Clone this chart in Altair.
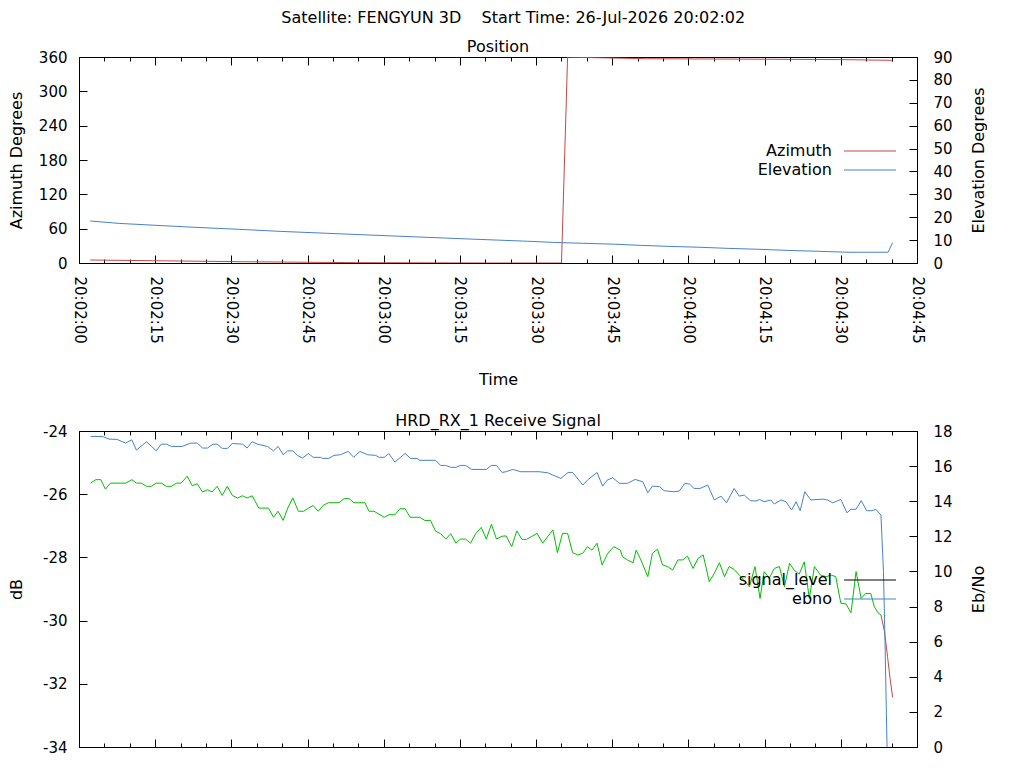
import altair as alt
import pandas as pd

FONT = "DejaVu Sans"
RED = "#c84646"
BLUE = "#4682c8"
GREEN = "#00c000"
W, H1, H2 = 838, 206, 316

TITLE = "Satellite: FENGYUN 3D" + "\u00a0" * 4 + "Start Time: 26-Jul-2026 20:02:02"

# ---- data (time = seconds after 20:02:00) ----
az_t = [2.2, 14.5, 32.6, 54.5, 80.5, 95.0, 96.2, 111.6, 149.6, 159.9, 160.2]
az_v = [5.2, 4.0, 2.2, 0.6, 0.0, 0.0, 359.8, 357.0, 355.5, 354.2, 351.3]

el_t = [2.2, 7.9, 14.8, 22.7, 31.6, 39.8, 48.6, 58.5, 68.7, 77.8, 88.3, 93.5,
        99.4, 105.7, 110.7, 115.6, 121.9, 127.8, 133.7, 139.6, 145.7, 151.6, 159.3, 160.2]
el_v = [18.35, 17.3, 16.5, 15.6, 14.7, 13.8, 13.0, 12.1, 11.2, 10.4, 9.5, 9.0,
        8.6, 8.2, 7.7, 7.3, 6.9, 6.4, 6.0, 5.5, 5.1, 4.7, 4.7, 8.9]

sig_t = [2.3, 3.3, 4.3, 5.2, 6.2, 9.2, 10.4, 11.3, 12.3, 13.3, 14.2, 15.2, 16.2, 17.2, 18.2,
         19.2, 20.1, 21.3, 22.3, 23.3, 24.3, 25.3, 26.2, 27.2, 28.2, 29.2, 30.2, 31.2, 32.2,
         33.1, 34.1, 35.4, 37.3, 38.3, 39.2, 40.2, 41.1, 42.1,
         43.2, 44.2, 45.2, 46.1, 47.1, 48.1, 49.1, 51.2, 52.2, 53.2, 54.1, 56.3, 57.1, 58.1,
         60.1, 61.0, 62.2, 63.2, 64.2, 65.2, 67.1, 68.1, 69.2, 70.2, 71.2, 72.2, 73.2, 74.2,
         75.1, 76.1, 77.1, 78.1, 79.2, 80.2, 81.2, 82.2, 83.3,
         84.1, 85.2, 86.2, 87.2, 88.1, 89.1, 90.2, 91.3, 93.3, 94.2, 95.2, 96.2, 97.2, 98.2,
         99.2, 100.1, 101.0, 102.0, 103.0, 104.1, 105.3, 106.6, 107.0, 108.0, 109.1, 109.7,
         110.5, 112.0, 112.9, 113.9, 114.9, 115.9, 116.9, 117.9, 118.9, 119.8, 120.9, 121.9,
         122.9, 124.1, 125.1, 126.1, 127.1, 128.0, 129.0, 130.0, 131.0, 132.0, 133.1, 134.1,
         134.9, 135.9, 136.9, 137.9, 138.9, 139.9, 140.8, 141.8, 142.8, 143.8, 144.8, 146.0,
         147.1, 148.1, 149.0, 150.0, 151.0, 152.0, 153.0, 154.0, 154.9, 155.9, 156.6, 157.3, 157.9]
sig_db = [-25.65, -25.54, -25.54, -25.84, -25.65, -25.65, -25.54, -25.65, -25.65, -25.75,
          -25.75, -25.65, -25.65, -25.75, -25.75, -25.65, -25.65, -25.43, -25.73, -25.67,
          -25.93, -25.86, -25.93, -25.75, -26.04, -25.75, -26.04, -26.12, -26.05, -26.12,
          -26.05, -26.44, -26.44, -26.73, -26.54, -26.83, -26.44, -26.12,
          -26.54, -26.54, -26.44, -26.36, -26.54, -26.35, -26.27, -26.27, -26.14, -26.14,
          -26.27, -26.27, -26.54, -26.54, -26.73, -26.65, -26.65, -26.46, -26.46, -26.73,
          -26.73, -26.83, -26.83, -27.17, -27.25, -27.42, -27.25, -27.55, -27.42, -27.42,
          -27.55, -27.25, -27.05, -27.42, -26.95, -27.42, -27.33,
          -27.32, -27.66, -27.16, -27.43, -27.43, -27.34, -27.24, -27.55, -27.13, -27.85,
          -27.24, -27.24, -27.85, -27.92, -27.87, -27.66, -27.77, -27.55, -28.24, -27.87,
          -27.66, -27.77, -27.98, -28.08, -28.17, -27.77, -28.03, -28.61, -27.87, -27.74,
          -28.24, -28.29, -28.40, -28.08, -28.08, -27.96, -28.35, -28.03, -27.92, -28.77,
          -28.50, -28.17, -28.61, -28.29, -28.38, -28.56, -28.72, -28.93, -28.29, -29.30,
          -28.45, -28.66, -28.35, -28.29, -28.93, -28.19, -28.40, -28.53, -28.14, -29.30,
          -28.29, -28.56, -28.61, -28.56, -28.61, -29.45, -29.47, -29.75, -28.45, -29.30,
          -29.14, -29.14, -29.56, -29.75, -29.82]

low_t = [157.9, 158.6, 159.2, 159.7, 160.2]
low_db = [-29.82, -30.35, -31.14, -31.83, -32.43]

eb_t = [2.3, 4.6, 5.9, 7.5, 9.2, 10.4, 11.3, 13.3, 15.2, 16.2, 17.2, 18.2, 20.3, 22.0, 23.3,
        24.3, 25.3, 26.4, 27.2, 28.2, 29.2, 30.2, 32.2, 33.1, 34.1, 35.1, 37.1, 38.3, 39.2,
        40.2, 41.1, 42.1,
        43.0, 44.0, 45.2, 46.1, 47.6, 47.9, 49.2, 50.2, 51.5, 53.0, 54.1, 55.3, 56.8, 58.4,
        59.1, 60.1, 61.0, 62.2, 64.2, 65.3, 66.6, 67.1, 70.2, 71.2, 72.2, 73.2, 74.2, 75.1,
        76.1, 77.3, 80.2, 81.2, 82.2, 83.3,
        84.1, 85.4, 87.0, 90.6, 92.3, 93.3, 94.9, 96.3, 97.2, 99.2, 100.1, 102.0, 103.1, 104.0,
        105.1, 106.4, 108.0, 109.5, 111.0, 112.0, 112.9, 114.3, 115.2, 117.1, 118.2, 119.3,
        120.2, 121.1, 122.3, 123.8, 125.1, 126.4, 127.5, 129.0, 130.0, 131.0, 132.2, 133.3,
        134.0, 134.9, 136.2, 136.9, 138.2, 139.2, 140.3, 141.2, 142.0, 142.9, 144.1, 146.4,
        147.4, 148.4, 150.0, 151.2, 152.0, 153.0, 154.0, 155.1, 156.1, 156.9, 157.9, 158.4,
        158.7, 159.1]
eb_v = [17.69, 17.69, 17.54, 17.52, 17.31, 17.50, 16.91, 17.39, 16.87, 17.25, 17.25, 17.12,
        17.12, 17.31, 17.31, 17.03, 17.03, 17.25, 17.25, 17.01, 17.01, 17.29, 17.25, 17.03,
        17.39, 17.25, 17.12, 16.87, 17.12, 16.65, 16.87, 16.87,
        16.61, 16.46, 16.72, 16.50, 16.50, 16.44, 16.44, 16.61, 16.65, 16.84, 16.50, 16.84,
        16.65, 16.61, 16.50, 16.50, 16.72, 16.23, 16.72, 16.44, 16.44, 16.33, 16.33, 16.04,
        16.04, 15.93, 15.93, 16.04, 16.04, 15.81, 15.81, 16.04, 16.04, 15.64,
        15.68, 15.81, 15.68, 15.68, 15.62, 15.49, 15.30, 15.64, 15.64, 14.92, 15.20, 15.64,
        14.86, 15.20, 15.34, 15.02, 15.02, 15.24, 15.11, 14.48, 14.86, 14.83, 14.60, 14.54,
        14.58, 15.02, 14.98, 14.73, 14.73, 14.92, 14.07, 14.29, 13.91, 14.73, 14.29, 14.35,
        14.03, 14.01, 14.10, 13.97, 14.07, 13.84, 14.07, 13.97, 13.50, 13.97, 13.46, 14.54,
        14.07, 14.12, 14.07, 13.91, 14.10, 13.34, 13.54, 13.54, 14.03, 13.46, 13.46, 13.54,
        13.21, 10.0, 6.0, 0.0]

time_major = list(range(0, 166, 15))
time_minor = list(range(0, 166, 5))
az_ticks = list(range(0, 361, 60))
el_ticks = list(range(0, 91, 10))
db_ticks = list(range(-34, -23, 2))
eb_ticks = list(range(0, 19, 2))

az_df = pd.DataFrame({"t": az_t, "v": az_v, "series": "Azimuth"})
el_df = pd.DataFrame({"t": el_t, "v": el_v, "series": "Elevation"})
sig_df = pd.DataFrame({"t": sig_t, "v": sig_db, "series": "signal_level"})
low_df = pd.DataFrame({"t": low_t, "v": low_db, "series": "signal_level"})
eb_df = pd.DataFrame({"t": eb_t, "v": eb_v, "series": "ebno"})

TIME_LABEL = ("'20:0' + (2 + floor(datum.value / 60)) + ':' + "
              "(datum.value % 60 < 10 ? '0' : '') + (datum.value % 60)")

xscale = alt.Scale(domain=[0, 165], nice=False, zero=False)
az_scale = alt.Scale(domain=[0, 360], nice=False, zero=False)
el_scale = alt.Scale(domain=[0, 90], nice=False, zero=False)
db_scale = alt.Scale(domain=[-34, -24], nice=False, zero=False)
eb_scale = alt.Scale(domain=[0, 18], nice=False, zero=False)


def num(v):
    return {"expr": str(v)}


def tick_axis(orient, values, size):
    return alt.Axis(orient=orient, values=values, labels=False, domain=False, grid=False,
                    ticks=True, tickSize=size, offset=num(-size), tickColor="black",
                    tickWidth=1, title=None)


def y_axis(orient, title, values, h, expr=None):
    kw = dict(orient=orient, values=values, ticks=False, tickSize=0, domain=False,
              grid=False, labelPadding=12 if orient == "left" else 16, title=title,
              titleX=-62.5 if orient == "left" else 61, titleY=h / 2, titleAngle=270,
              titleBaseline="middle", titleFontWeight="normal", labelOverlap=False,
              labelFontSize=15, titleFontSize=16, labelColor="black", titleColor="black",
              labelFont=FONT, titleFont=FONT)
    if expr:
        kw["labelExpr"] = expr
    return alt.Axis(**kw)


x_time_axis = alt.Axis(orient="bottom", values=time_major, labelExpr=TIME_LABEL,
                       labelAngle=90, labelAlign="left", labelBaseline="middle",
                       labelPadding=13, labelFlush=False, labelOverlap=False,
                       ticks=False, tickSize=0, domain=False, grid=False,
                       title="Time", titleY=116, titleBaseline="middle",
                       titleFontWeight="normal", labelFontSize=15, titleFontSize=16,
                       labelColor="black", titleColor="black", labelFont=FONT,
                       titleFont=FONT)


def X(axis):
    return alt.X("t:Q", scale=xscale, axis=axis)


def legend(x, y):
    return alt.Legend(title=None, orient="none", legendX=x, legendY=y,
                      symbolType="M-5,0L5,0", symbolSize=108, symbolStrokeWidth=1,
                      labelAlign="right", labelOffset=num(-46), labelFontSize=16,
                      labelFont=FONT, labelColor="black", rowPadding=3, padding=0,
                      labelLimit=300)


color_top = alt.Color("series:N",
                      scale=alt.Scale(domain=["Azimuth", "Elevation"], range=[RED, BLUE]),
                      legend=legend(783, 86))
color_bot = alt.Color("series:N",
                      scale=alt.Scale(domain=["signal_level", "ebno"], range=["black", BLUE]),
                      legend=legend(783, 141))

line = dict(strokeWidth=1, clip=True)

t_az = alt.Chart(az_df).mark_line(**line).encode(
    x=X(x_time_axis),
    y=alt.Y("v:Q", scale=az_scale, axis=y_axis("left", "Azimuth Degrees", az_ticks, H1)),
    color=color_top)
t_el = alt.Chart(el_df).mark_line(**line).encode(
    x=X(tick_axis("bottom", time_major, 8)),
    y=alt.Y("v:Q", scale=el_scale, axis=y_axis("right", "Elevation Degrees", el_ticks, H1)),
    color=color_top)
t_d1 = alt.Chart(az_df).mark_line(opacity=0).encode(
    x=X(tick_axis("bottom", time_minor, 4)),
    y=alt.Y("v:Q", scale=az_scale, axis=tick_axis("left", az_ticks, 8)))
t_d2 = alt.Chart(el_df).mark_line(opacity=0).encode(
    x=X(tick_axis("top", time_major, 8)),
    y=alt.Y("v:Q", scale=el_scale, axis=tick_axis("right", el_ticks, 8)))
t_d3 = alt.Chart(el_df).mark_line(opacity=0).encode(
    x=X(tick_axis("top", time_minor, 4)),
    y=alt.Y("v:Q", scale=el_scale, axis=None))

top = alt.layer(t_az, t_el, t_d1, t_d2, t_d3).resolve_scale(
    x="independent", y="independent").properties(
    width=W, height=H1,
    title=alt.TitleParams("Position", fontSize=16, fontWeight="normal", font=FONT,
                          color="black", offset=num(-5)))

b_sig = alt.Chart(sig_df).mark_line(color=GREEN, **line).encode(
    x=X(tick_axis("bottom", time_major, 8)),
    y=alt.Y("v:Q", scale=db_scale,
            axis=y_axis("left", "dB", db_ticks, H2, expr="'' + datum.value")))
b_low = alt.Chart(low_df).mark_line(color=RED, **line).encode(
    x=X(tick_axis("bottom", time_minor, 4)),
    y=alt.Y("v:Q", scale=db_scale, axis=tick_axis("left", db_ticks, 8)))
b_eb = alt.Chart(eb_df).mark_line(**line).encode(
    x=X(tick_axis("top", time_major, 8)),
    y=alt.Y("v:Q", scale=eb_scale, axis=y_axis("right", "Eb/No", eb_ticks, H2)),
    color=color_bot)
b_d = alt.Chart(eb_df).mark_line(opacity=0).encode(
    x=X(tick_axis("top", time_minor, 4)),
    y=alt.Y("v:Q", scale=eb_scale, axis=tick_axis("right", eb_ticks, 8)))

bottom = alt.layer(b_sig, b_low, b_eb, b_d).resolve_scale(
    x="independent", y="independent").properties(
    width=W, height=H2,
    title=alt.TitleParams("HRD_RX_1 Receive Signal", fontSize=16, fontWeight="normal",
                          font=FONT, color="black", offset=num(-5)))

chart = alt.vconcat(top, bottom, spacing=24,
                    padding={"top": 1, "left": 0, "right": 0, "bottom": 0}).resolve_scale(
    color="independent").resolve_legend(color="independent").properties(
    title=alt.TitleParams(TITLE, anchor="middle", fontSize=16, fontWeight="normal",
                          font=FONT, color="black", offset=13, dx=16)
).configure(font=FONT).configure_view(stroke="black", strokeWidth=1)

chart.save("out.html", embed_options={"renderer": "svg", "actions": False})
